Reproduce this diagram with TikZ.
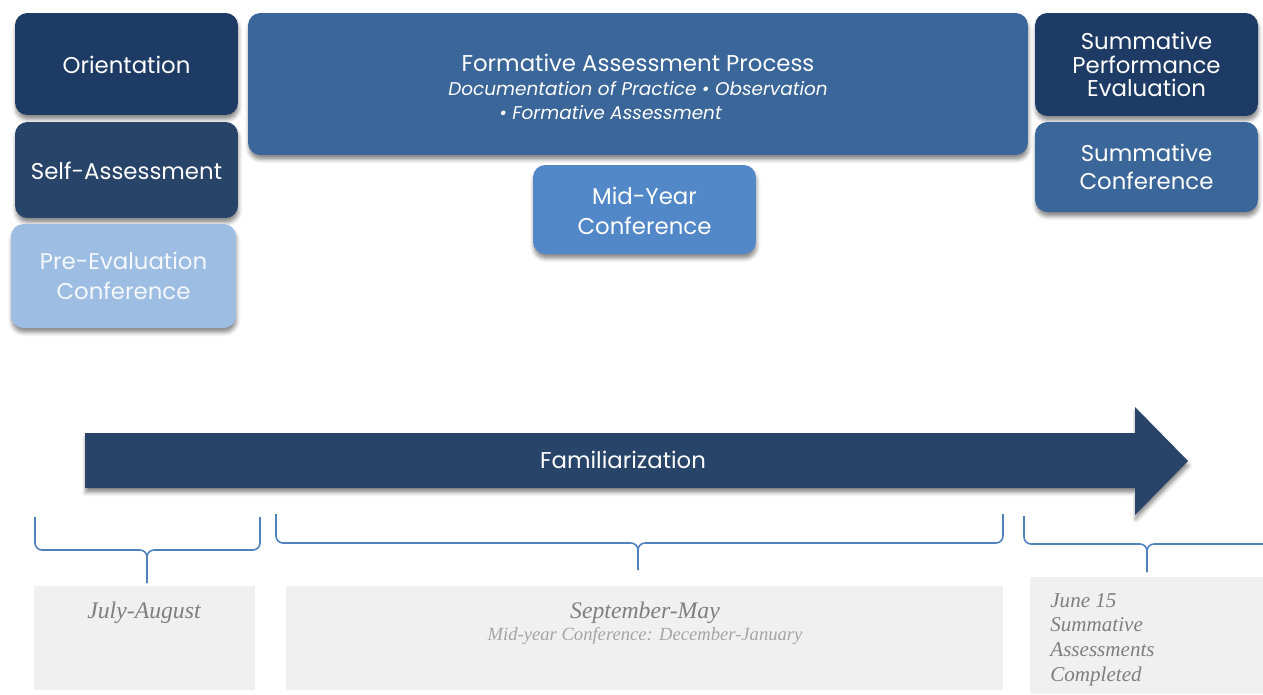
\documentclass[tikz,border=0pt]{standalone}
\usepackage{fontspec}
\setmainfont{Liberation Serif}
\newfontfamily\boxfont{Poppins}
\usetikzlibrary{positioning,shadows.blur}

\definecolor{navydark}{HTML}{1D3B64}
\definecolor{navyself}{HTML}{284469}
\definecolor{bluemid}{HTML}{3B6699}
\definecolor{bluebright}{HTML}{5288C8}
\definecolor{bluepale}{HTML}{9DBDE2}
\definecolor{bracecol}{HTML}{4F81BD}
\definecolor{periodfill}{HTML}{F0F0F0}
\definecolor{periodtxt}{HTML}{7F7F7F}
\definecolor{periodsub}{HTML}{A5A5A5}

\begin{document}
\begin{tikzpicture}[x=0.02cm,y=-0.02cm,
    softshadow/.style={blur shadow={shadow xshift=0.4pt, shadow yshift=-2.6pt,
      shadow opacity=45, shadow blur radius=2.2pt}},
    stage/.style={rounded corners=7pt, text=white, align=center, inner sep=0pt,
      font=\boxfont\fontsize{13}{17}\selectfont, softshadow},
    brace/.style={draw=bracecol, line width=0.9pt, rounded corners=4pt},
    period/.style={fill=periodfill},
    periodtext/.style={text=periodtxt, inner sep=0pt, font=\itshape\fontsize{13.5}{15}\selectfont}]

  \useasboundingbox (0,0) rectangle (1263,694);

  % stages
  \node[stage, fill=navydark, minimum width=4.46cm, minimum height=2.04cm] (orient) at (126.5,64) {\rule{0pt}{11pt}Orientation};
  \node[stage, fill=navyself, minimum width=4.46cm, minimum height=1.92cm] (self) at (126.5,170) {\rule{0pt}{11pt}Self-Assessment};
  \node[stage, fill=bluepale, text=white!90!bluepale, minimum width=4.5cm, minimum height=2.08cm] (preeval) at (123.5,276) {Pre-Evaluation\\Conference};
  \node[stage, fill=bluemid, minimum width=15.6cm, minimum height=2.84cm] (formative) at (638,84)
    {\rule{0pt}{13pt}Formative Assessment Process\\[-3.5pt]
     {\itshape\fontsize{10.5}{13}\selectfont Documentation of Practice \textbullet{} Observation}\\[-3.5pt]
     {\itshape\fontsize{10.5}{13}\selectfont \textbullet{} Formative Assessment\hspace*{1.1cm}}};
  \node[stage, fill=bluebright, minimum width=4.46cm, minimum height=1.78cm] (midyear) at (644.5,209.5) {\rule{0pt}{11pt}Mid-Year\\Conference};
  \node[stage, fill=navydark, minimum width=4.46cm, minimum height=2.06cm,
    font=\boxfont\fontsize{13}{13.3}\selectfont] (sumeval) at (1146.5,64.5) {Summative\\Performance\\Evaluation};
  \node[stage, fill=bluemid, minimum width=4.46cm, minimum height=1.8cm,
    font=\boxfont\fontsize{13}{15.9}\selectfont] (sumconf) at (1146.5,167) {Summative\\Conference};

  % timeline arrow
  \fill[navyself, softshadow]
    (85,433) -- (1135,433) -- (1135,407) -- (1188,461) -- (1135,515) -- (1135,488) -- (85,488) -- cycle;
  \node[text=white, font=\boxfont\fontsize{13}{17}\selectfont] (fam) at (623,460) {Familiarization};

  % braces
  \draw[brace] (35,517) -- (35,550) -- (147,550) -- (147,583);
  \draw[brace] (260,517) -- (260,550) -- (147,550) -- (147,583);
  \draw[brace] (276,514) -- (276,543) -- (638,543) -- (638,570);
  \draw[brace] (1003,514) -- (1003,543) -- (638,543) -- (638,570);
  \draw[brace] (1024,516) -- (1024,544) -- (1147,544) -- (1147,572);
  \draw[brace] (1290,544) -- (1147,544) -- (1147,572);

  % periods
  \fill[period] (34,586) rectangle (255,690);
  \fill[period] (286,586) rectangle (1003,690);
  \fill[period] (1030,577) rectangle (1263,694);
  \node[periodtext] (julaug) at (144,613) {July-August};
  \node[periodtext] (sepmay) at (645,613) {September-May};
  \node[periodtext, text=periodsub, font=\itshape\fontsize{10.6}{12}\selectfont] (midnote) at (645,636) {Mid-year Conference: December-January};
  \node[periodtext, align=left, anchor=north west, font=\itshape\fontsize{12}{14}\selectfont] (june) at (1050,593)
    {June 15\\Summative\\Assessments\\Completed};
\end{tikzpicture}
\end{document}
